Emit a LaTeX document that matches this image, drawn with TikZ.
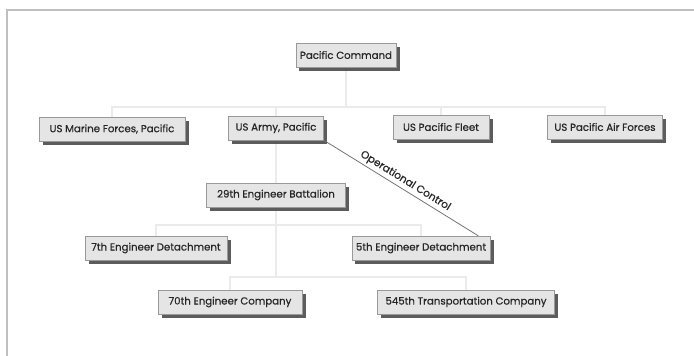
\documentclass[tikz,border=0pt]{standalone}
\usepackage{fontspec}
\setmainfont{Poppins}
\newfontfamily\unitfont{Poppins}[FakeBold=0.6]
\usetikzlibrary{shadows,backgrounds}
\begin{document}
\begin{tikzpicture}[x=1pt, y=-1pt,
	unit/.style = {draw = black!40, fill = black!10, text = black!85, font = \unitfont\fontsize{10.2}{11}\selectfont,
		minimum height = 24pt, inner xsep = 4pt,
		drop shadow = {shadow xshift = 3.5pt, shadow yshift = -3.5pt, fill = black!75, opacity = 0.85}},
	link/.style = {draw = black!8, line width = 2.4pt},
	ctrl/.style = {draw = black!55, line width = 0.8pt}]
	\useasboundingbox (0,0) rectangle (694,356);
	% frame
	\draw [black!25, line width = 1.8pt] (694,10) -- (7,10) -- (7,356);
	% bars
	\coordinate (bar1) at (0,107);
	\coordinate (bar2) at (0,225);
	\coordinate (bar3) at (0,277);
	% units
	\node [unit, minimum width = 100pt] (pc) at (346,55) {Pacific Command};
	\node [unit, minimum width = 146pt] (mar) at (112,129) {US Marine Forces, Pacific};
	\node [unit, minimum width = 95pt] (army) at (276,128) {US Army, Pacific};
	\node [unit, minimum width = 96pt] (fleet) at (441,127) {US Pacific Fleet};
	\node [unit, minimum width = 115pt] (air) at (605,127) {US Pacific Air Forces};
	\node [unit, minimum width = 139pt] (bat) at (276,195) {29th Engineer Battalion};
	\node [unit, minimum width = 142pt] (d7) at (156,248) {7th Engineer Detachment};
	\node [unit, minimum width = 138pt] (d5) at (421,248) {5th Engineer Detachment};
	\node [unit, minimum width = 144pt] (c70) at (230,302) {70th Engineer Company};
	\node [unit, minimum width = 177pt] (c545) at (466,302) {545th Transportation Company};
	% links (behind the boxes)
	\begin{pgfonlayer}{background}
	\foreach \c in {mar, army, fleet, air}
		\draw [link] (pc.south) -- (pc.south |- bar1) -| (\c.north);
	\draw [link] (army.south) -- (bat.north);
	\foreach \c in {d7, d5}
		\draw [link] (bat.south) -- (bat.south |- bar2) -| (\c.north);
	\foreach \c in {c70, c545}
		\draw [link] (bat.south) -- (bat.south |- bar3) -| (\c.north);
	\end{pgfonlayer}
	% operational control
	\coordinate (ocend) at ([xshift = -12pt] d5.north east);
	\draw [ctrl] (army.south east) -- node [sloped, above, font = \unitfont\fontsize{10.5}{11}\selectfont, text = black!85, inner sep = 2.5pt] {Operational Control} (ocend);
\end{tikzpicture}
\end{document}
